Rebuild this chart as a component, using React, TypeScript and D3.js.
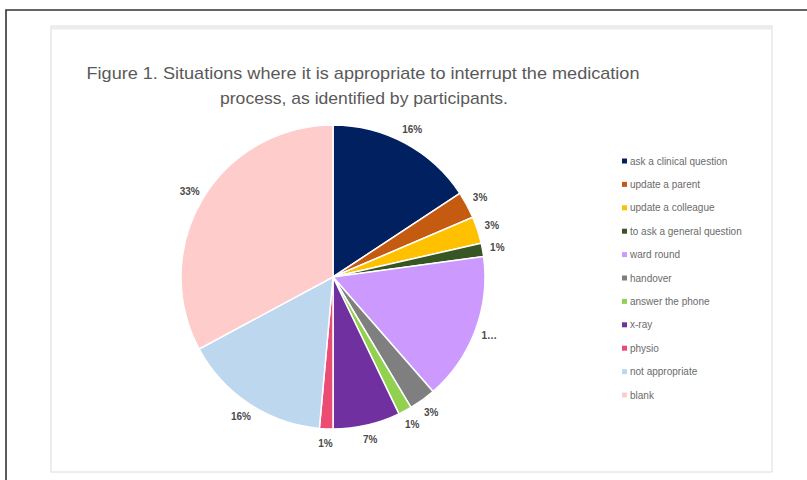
import { useEffect, useRef } from 'react';
import * as d3 from 'd3';

const categories = [
  'ask a clinical question',
  'update a parent',
  'update a colleague',
  'to ask a general question',
  'ward round',
  'handover',
  'answer the phone',
  'x-ray',
  'physio',
  'not appropriate',
  'blank',
];
const counts = [11, 2, 2, 1, 11, 2, 1, 5, 1, 11, 23];
const sliceLabels = ['16%', '3%', '3%', '1%', '1…', '3%', '1%', '7%', '1%', '16%', '33%'];
const colors = [
  '#002060', '#c55a11', '#ffc000', '#375623', '#cc99ff', '#7f7f7f',
  '#92d050', '#7030a0', '#ea4c73', '#bdd7ee', '#ffcccc',
];
const titleLines = [
  'Figure 1. Situations where it is appropriate to interrupt the medication',
  'process, as identified by participants.',
];

export default function App() {
  const svgRef = useRef<SVGSVGElement>(null);

  useEffect(() => {
    if (!svgRef.current) return;
    const width = 807;
    const height = 480;
    const svg = d3.select(svgRef.current);
    svg.selectAll('*').remove();
    svg.attr('width', width).attr('height', height);

    // outer frame of the page scan
    svg.append('rect').attr('width', width).attr('height', height).attr('fill', '#fff');
    svg
      .append('path')
      .attr('d', `M6,${height} L6,10 L${width},10`)
      .attr('fill', 'none')
      .attr('stroke', '#333')
      .attr('stroke-width', 1.6);

    // chart area box
    svg
      .append('rect')
      .attr('x', 51)
      .attr('y', 26)
      .attr('width', 721)
      .attr('height', 446)
      .attr('fill', '#fff')
      .attr('stroke', '#dcdcdc')
      .attr('stroke-width', 1);
    svg
      .append('rect')
      .attr('x', 51.5)
      .attr('y', 26.5)
      .attr('width', 720)
      .attr('height', 3)
      .attr('fill', '#ececec');

    const title = svg
      .append('text')
      .attr('font-family', 'Liberation Sans, Arial, sans-serif')
      .attr('font-size', 17)
      .attr('fill', '#595959')
      .attr('text-anchor', 'middle');
    title
      .append('tspan')
      .attr('x', 363)
      .attr('y', 79)
      .attr('textLength', 553)
      .attr('lengthAdjust', 'spacingAndGlyphs')
      .text(titleLines[0]);
    title
      .append('tspan')
      .attr('x', 364)
      .attr('y', 104)
      .attr('textLength', 288)
      .attr('lengthAdjust', 'spacingAndGlyphs')
      .text(titleLines[1]);

    const cx = 333;
    const cy = 277;
    const r = 152;

    const pie = d3
      .pie<number>()
      .sort(null)
      .value((d) => d);
    const arcs = pie(counts);
    const arc = d3.arc<d3.PieArcDatum<number>>().innerRadius(0).outerRadius(r);
    const labelArc = d3
      .arc<d3.PieArcDatum<number>>()
      .innerRadius(r + 15)
      .outerRadius(r + 15);

    const g = svg.append('g').attr('transform', `translate(${cx},${cy})`);
    g.selectAll('path.slice')
      .data(arcs)
      .enter()
      .append('path')
      .attr('class', 'slice')
      .attr('d', arc)
      .attr('fill', (_, i) => colors[i])
      .attr('stroke', '#fff')
      .attr('stroke-width', 1.5);

    g.selectAll('text.lbl')
      .data(arcs)
      .enter()
      .append('text')
      .attr('class', 'lbl')
      .attr('x', (d) => labelArc.centroid(d)[0])
      .attr('y', (d) => labelArc.centroid(d)[1])
      .attr('dy', '0.35em')
      .attr('text-anchor', 'middle')
      .attr('font-family', 'Liberation Sans, Arial, sans-serif')
      .attr('font-size', 10)
      .attr('font-weight', 700)
      .attr('fill', '#4a4a4a')
      .text((_, i) => sliceLabels[i]);

    // legend
    const legendY = d3
      .scalePoint<string>()
      .domain(categories)
      .range([161, 395]);
    const legend = svg
      .append('g')
      .selectAll('g')
      .data(categories)
      .enter()
      .append('g')
      .attr('transform', (d) => `translate(622,${legendY(d)})`);
    legend
      .append('rect')
      .attr('x', 0)
      .attr('y', -2.5)
      .attr('width', 5)
      .attr('height', 5)
      .attr('fill', (_, i) => colors[i]);
    legend
      .append('text')
      .attr('x', 8)
      .attr('dy', '0.35em')
      .attr('font-family', 'Liberation Sans, Arial, sans-serif')
      .attr('font-size', 10)
      .attr('fill', '#6b6b6b')
      .text((d) => d);
  }, []);

  return (
    <svg
      ref={svgRef}
      style={{ position: 'absolute', left: 0, top: 0, display: 'block' }}
      role="img"
      aria-label="Pie chart of situations where interrupting medication is appropriate"
    />
  );
}
